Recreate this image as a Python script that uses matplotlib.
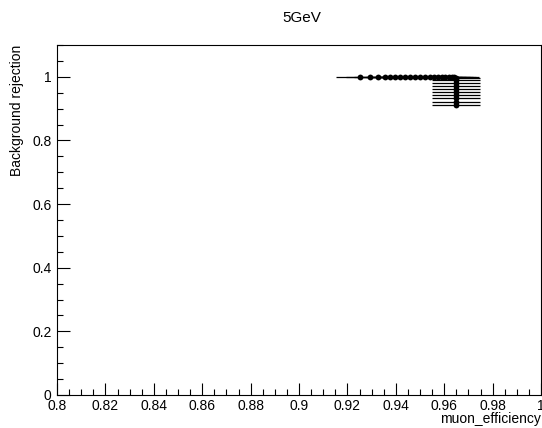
import matplotlib
matplotlib.use("Agg")
import matplotlib.pyplot as plt
from matplotlib.ticker import MultipleLocator, FixedFormatter, FixedLocator

plt.rcParams['font.family'] = ['Liberation Sans', 'DejaVu Sans']

title = "5GeV"
x_label = "muon_efficiency"
y_label = "Background rejection"

# working points of the selection scan
muon_eff = [0.9252, 0.9293, 0.9326, 0.9355, 0.9376, 0.9397, 0.9417, 0.9438,
            0.9459, 0.9479, 0.9500, 0.9521, 0.9541, 0.9558, 0.9574, 0.9590,
            0.9605, 0.9619, 0.9632, 0.9642,
            0.9649, 0.9649, 0.9649, 0.9649, 0.9649, 0.9649, 0.9649, 0.9649,
            0.9649, 0.9649]
bkg_rej = [1.000, 1.000, 1.000, 1.000, 1.000, 0.9998, 0.9998, 0.9997,
           0.9997, 0.9996, 0.9996, 0.9995, 0.9994, 0.9993, 0.9992, 0.9990,
           0.9988, 0.9986, 0.9984, 0.9980,
           0.995, 0.990, 0.982, 0.972, 0.962, 0.952, 0.942, 0.932,
           0.922, 0.912]
eff_err = [0.01] * len(muon_eff)
rej_err = [0.0005] * 20 + [0.003] * 10

x_ticks = [0.8, 0.82, 0.84, 0.86, 0.88, 0.9, 0.92, 0.94, 0.96, 0.98, 1.0]
x_tick_labels = ["0.8", "0.82", "0.84", "0.86", "0.88", "0.9", "0.92",
                 "0.94", "0.96", "0.98", "1"]
y_ticks = [0, 0.2, 0.4, 0.6, 0.8, 1.0]
y_tick_labels = ["0", "0.2", "0.4", "0.6", "0.8", "1"]

W, H = 542, 428
fig = plt.figure(figsize=(W / 100, H / 100), dpi=100)
ax = fig.add_axes([57 / W, 1 - 395 / H, (541 - 57) / W, (395 - 45) / H])

ax.errorbar(muon_eff, bkg_rej, xerr=eff_err, yerr=rej_err, fmt='o',
            color='black', markersize=4.2, elinewidth=0.9, capsize=1.5,
            capthick=0.9, markeredgewidth=0)

ax.set_xlim(0.8, 1.0)
ax.set_ylim(0, 1.1)

ax.xaxis.set_major_locator(FixedLocator(x_ticks))
ax.xaxis.set_major_formatter(FixedFormatter(x_tick_labels))
ax.xaxis.set_minor_locator(MultipleLocator(0.005))
ax.yaxis.set_major_locator(FixedLocator(y_ticks))
ax.yaxis.set_major_formatter(FixedFormatter(y_tick_labels))
ax.yaxis.set_minor_locator(MultipleLocator(0.05))

ax.tick_params(axis='both', which='both', direction='in', top=False,
               right=False, labelsize=10, width=0.8, colors='black')
ax.tick_params(axis='x', which='major', length=9, pad=3)
ax.tick_params(axis='x', which='minor', length=4.5)
ax.tick_params(axis='y', which='major', length=9, pad=4)
ax.tick_params(axis='y', which='minor', length=4.5)

for s in ax.spines.values():
    s.set_linewidth(0.8)

fig.text(302 / W, 1 - 18 / H, title, ha='center', va='center', fontsize=11)
fig.text(541 / W, 1 - 419 / H, x_label, ha='right', va='center', fontsize=10)
fig.text(17 / W, 1 - 45 / H, y_label, ha='center', va='top', rotation=90,
         fontsize=10)

fig.savefig("out.png", dpi=100)
